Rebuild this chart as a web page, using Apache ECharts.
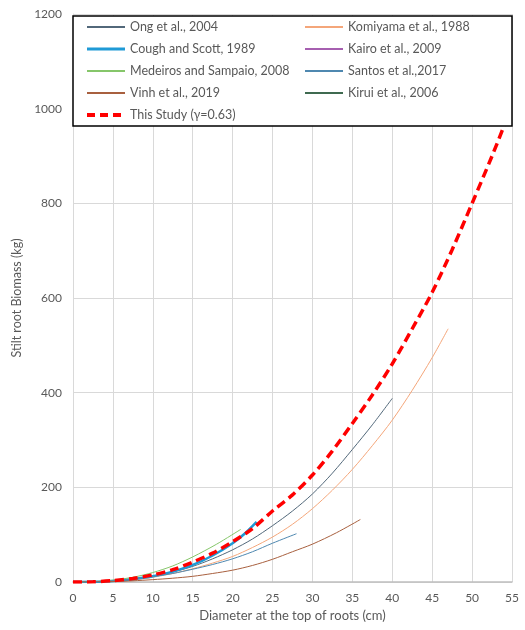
<!DOCTYPE html>
<html>
<head>
<meta charset="utf-8">
<script src="https://cdn.jsdelivr.net/npm/echarts@6/dist/echarts.min.js"></script>
<style>
  html, body { margin: 0; padding: 0; background: #fff; }
  #chart { width: 525px; height: 630px; }
</style>
</head>
<body>
<div id="chart"></div>
<script>
// Stilt root biomass (kg) against diameter at the top of roots (cm)
const ongD = [0, 2.5, 5, 7.5, 10, 12.5, 15, 17.5, 20, 22.5, 25, 27.5, 30, 32.5, 35, 37.5, 40];
const ongKg = [0, 0.3, 2, 6, 12, 21, 33, 49, 68, 91, 119, 150, 186, 230, 280, 332, 388];

const komiyamaD = [0, 2.5, 5, 7.5, 10, 12.5, 15, 17.5, 20, 22.5, 25, 27.5, 30, 32.5, 35, 37.5, 40, 42.5, 45, 47];
const komiyamaKg = [0, 0.2, 1, 4, 10, 18, 28, 40, 54, 73, 95, 122, 155, 194, 238, 288, 342, 405, 474, 535];

const coughD = [0, 2.5, 5, 7.5, 10, 12.5, 15, 17.5, 20, 21.5, 23];
const coughKg = [0, 0.3, 2, 6, 12, 22, 36, 56, 82, 102, 127];

const kairoD = [];
const kairoKg = [];

const medeirosD = [0, 2.5, 5, 7.5, 10, 12.5, 15, 18, 21];
const medeirosKg = [0, 0.8, 4, 10, 20, 34, 53, 80, 111];

const santosD = [0, 2.5, 5, 7.5, 10, 12.5, 15, 17.5, 20, 22.5, 25, 28];
const santosKg = [0, 0.6, 2.7, 6.5, 11.5, 18, 27, 37, 49, 64, 82, 102];

const vinhD = [0, 2.5, 5, 7.5, 10, 12.5, 15, 17.5, 20, 22.5, 25, 27.5, 30, 33, 36];
const vinhKg = [0, 0.1, 1, 2.5, 5, 8, 12, 18, 25, 35, 48, 64, 80, 104, 132];

const kiruiD = [];
const kiruiKg = [];

const studyD = [0, 2.5, 5, 7.5, 10, 12.5, 15, 17.5, 20, 22.5, 25, 27.5, 30, 32.5, 35, 37.5, 40, 42.5, 45, 47.5, 50, 52.5, 54.5];
const studyKg = [0, 0.5, 3, 7.5, 15, 26, 42, 61, 85, 113, 150, 184, 226, 277, 335, 395, 461, 535, 612, 702, 800, 900, 985];

const xTicks = { min: 0, max: 55, interval: 5 };
const yTicks = { min: 0, max: 1200, interval: 200 };

const pairs = (xs, ys) => xs.map((x, i) => [x, ys[i]]);

const FONT = 'Lato';
const TEXT = '#595959';

function line(name, xs, ys, color, width, extra) {
  return Object.assign({
    name: name,
    type: 'line',
    data: pairs(xs, ys),
    symbol: 'none',
    smooth: 0.3,
    lineStyle: { color: color, width: width },
    itemStyle: { color: color },
    emphasis: { disabled: true }
  }, extra || {});
}

const chart = echarts.init(document.getElementById('chart'), null, { renderer: 'canvas' });

const legendBase = {
  orient: 'vertical',
  top: 15,
  itemWidth: 38,
  itemHeight: 14,
  itemGap: 8,
  padding: 5,
  z: 20,
  selectedMode: false,
  itemStyle: { opacity: 0 },
  textStyle: { color: TEXT, fontFamily: FONT, fontSize: 12.5, lineHeight: 14 }
};

chart.setOption({
  animation: false,
  backgroundColor: '#fff',
  textStyle: { fontFamily: FONT },
  grid: { left: 73, right: 13, top: 14, bottom: 48, containLabel: false },
  legend: [
    Object.assign({}, legendBase, {
      left: 80,
      data: [
        'Ong et al., 2004',
        { name: 'Cough and Scott, 1989', lineStyle: { width: 3 } },
        'Medeiros and Sampaio, 2008',
        'Vinh et al., 2019',
        { name: 'This Study (γ=0.63)', lineStyle: { width: 4, type: [8, 5] } }
      ]
    }),
    Object.assign({}, legendBase, {
      left: 299,
      data: ['Komiyama et al., 1988', 'Kairo et al., 2009', 'Santos et al.,2017', 'Kirui et al., 2006']
    })
  ],
  graphic: [{
    type: 'rect',
    z: 10,
    shape: { x: 73, y: 16, width: 439, height: 110 },
    style: { fill: '#fff', stroke: '#000', lineWidth: 1.5 }
  }],
  xAxis: {
    type: 'value',
    min: xTicks.min, max: xTicks.max, interval: xTicks.interval,
    name: 'Diameter at the top of roots (cm)',
    nameLocation: 'middle',
    nameGap: 26,
    nameTextStyle: { color: TEXT, fontFamily: FONT, fontSize: 13 },
    axisLine: { show: true, lineStyle: { color: '#bfbfbf', width: 1.5 } },
    axisTick: { show: false },
    axisLabel: { color: TEXT, fontFamily: FONT, fontSize: 12, margin: 10 },
    splitLine: { show: true, lineStyle: { color: '#d9d9d9', width: 1 } }
  },
  yAxis: {
    type: 'value',
    min: yTicks.min, max: yTicks.max, interval: yTicks.interval,
    name: 'Stilt root Biomass (kg)',
    nameLocation: 'middle',
    nameGap: 43,
    nameTextStyle: { color: TEXT, fontFamily: FONT, fontSize: 12.5 },
    axisLine: { show: true, lineStyle: { color: '#d9d9d9', width: 1 } },
    axisTick: { show: false },
    axisLabel: { color: TEXT, fontFamily: FONT, fontSize: 12, margin: 11, formatter: v => String(v) },
    splitLine: { show: true, lineStyle: { color: '#d9d9d9', width: 1 } }
  },
  series: [
    line('Ong et al., 2004', ongD, ongKg, '#52687a', 1),
    line('Komiyama et al., 1988', komiyamaD, komiyamaKg, '#f4a67a', 1),
    line('Cough and Scott, 1989', coughD, coughKg, '#1f9ad6', 2.5),
    line('Kairo et al., 2009', kairoD, kairoKg, '#a65fb0', 1),
    line('Medeiros and Sampaio, 2008', medeirosD, medeirosKg, '#86c66a', 1),
    line('Santos et al.,2017', santosD, santosKg, '#4f88b0', 1),
    line('Vinh et al., 2019', vinhD, vinhKg, '#a8603f', 1),
    line('Kirui et al., 2006', kiruiD, kiruiKg, '#3f6a50', 1),
    line('This Study (γ=0.63)', studyD, studyKg, '#ff0000', 3.5, {
      lineStyle: { color: '#ff0000', width: 3.5, type: [9, 5], cap: 'butt' },
      z: 3
    })
  ]
});
</script>
</body>
</html>
